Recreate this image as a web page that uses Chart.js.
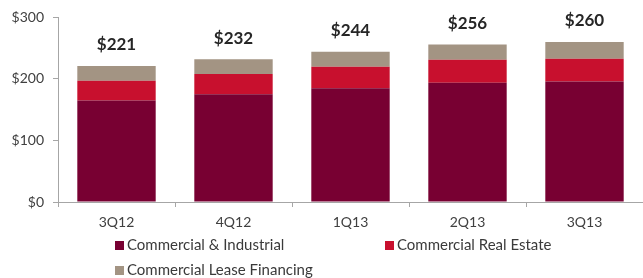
<!DOCTYPE html>
<html>
<head>
<meta charset="utf-8">
<script src="https://cdn.jsdelivr.net/npm/chart.js@4"></script>
<style>
  html, body { margin: 0; padding: 0; background: #fff; }
  #wrap { position: relative; width: 643px; height: 278px; }
  #legend { position: absolute; left: 0; top: 0; font-family: Lato, sans-serif; font-size: 15px; color: #3a3a3a; }
  .item { position: absolute; white-space: nowrap; }
  .box { display: inline-block; width: 9px; height: 9px; margin-right: 3px; vertical-align: 0px; }
</style>
</head>
<body>
<div id="wrap">
  <canvas id="chart" width="643" height="278"></canvas>
  <div id="legend"></div>
</div>
<script>
const quarters = ['3Q12', '4Q12', '1Q13', '2Q13', '3Q13'];
const commIndustrial = [165, 175, 185, 194, 196];
const commRealEstate = [32, 33, 35, 37, 37];
const commLease = [24, 24, 24, 25, 27];
const totals = [221, 232, 244, 256, 260];
const yTicks = [0, 100, 200, 300];

const seriesNames = ['Commercial & Industrial', 'Commercial Real Estate', 'Commercial Lease Financing'];
const colors = ['#780032', '#c8102e', '#a39483'];

// Totaux au-dessus des barres
const totalLabels = {
  id: 'totalLabels',
  afterDatasetsDraw(chart) {
    const ctx = chart.ctx;
    const meta = chart.getDatasetMeta(2);
    ctx.save();
    ctx.font = 'bold 17px Lato, sans-serif';
    ctx.fillStyle = '#262626';
    ctx.textAlign = 'center';
    ctx.textBaseline = 'middle';
    meta.data.forEach((bar, i) => {
      ctx.fillText('$' + totals[i], bar.x, bar.y - 21);
    });
    ctx.restore();
  }
};

const ctx = document.getElementById('chart').getContext('2d');
new Chart(ctx, {
  type: 'bar',
  data: {
    labels: quarters,
    datasets: [
      { label: seriesNames[0], data: commIndustrial, backgroundColor: colors[0] },
      { label: seriesNames[1], data: commRealEstate, backgroundColor: colors[1] },
      { label: seriesNames[2], data: commLease, backgroundColor: colors[2] }
    ]
  },
  options: {
    responsive: false,
    animation: false,
    layout: { padding: { top: 15, right: 0, bottom: 46, left: 0 } },
    datasets: { bar: { barPercentage: 1, categoryPercentage: 0.67 } },
    plugins: { legend: { display: false }, tooltip: { enabled: false } },
    scales: {
      x: {
        stacked: true,
        afterFit: s => { s.height = 30; },
        border: { color: '#a6a6a6', width: 1 },
        grid: { drawOnChartArea: false, drawTicks: true, tickLength: 5, color: '#a6a6a6', offset: true },
        ticks: { padding: 7, color: '#404040', font: { family: 'Lato', size: 14 } }
      },
      y: {
        stacked: true,
        min: 0, max: 300,
        afterFit: s => { s.width = 58; },
        afterBuildTicks: s => { s.ticks = yTicks.map(v => ({ value: v })); },
        border: { color: '#a6a6a6', width: 1 },
        grid: { drawOnChartArea: false, drawTicks: true, tickLength: 5, color: '#a6a6a6' },
        ticks: { padding: 9, color: '#404040', font: { family: 'Lato', size: 14 }, callback: v => '$' + v }
      }
    }
  },
  plugins: [totalLabels]
});

// Légende HTML
const legendPos = [[115, 235], [385, 235], [115, 260]];
const legend = document.getElementById('legend');
seriesNames.forEach((name, i) => {
  legend.insertAdjacentHTML('beforeend', `
    <div class="item" style="left:${legendPos[i][0]}px;top:${legendPos[i][1]}px">
      <span class="box" style="background:${colors[i]}"></span>${name}
    </div>`);
});
</script>
</body>
</html>
